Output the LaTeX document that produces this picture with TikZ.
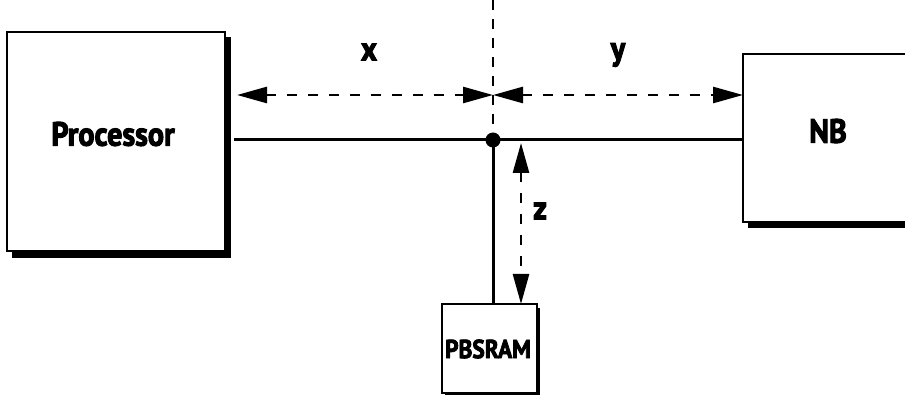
\documentclass[tikz,border=0pt]{standalone}
\usepackage{fontspec}
\setmainfont{PT Sans}[FakeStretch=0.9,BoldFeatures={FakeBold=3}]
\usetikzlibrary{arrows.meta,shadows}
\begin{document}
\begin{tikzpicture}[x=1pt,y=-1pt,
  box/.style={draw=black,line width=2pt,fill=white},
  shad/.style={fill=black},
  lbl/.style={font=\bfseries\fontsize{33.5}{33.5}\selectfont},
  slbl/.style={font=\bfseries\fontsize{26}{26}\selectfont},
  bus/.style={line width=3pt},
  dim/.style={line width=2.6pt,dash pattern=on 10pt off 11pt,
    {Triangle[length=30pt,width=16pt]}-{Triangle[length=30pt,width=16pt]}},
  vdash/.style={line width=2pt,dash pattern=on 10pt off 9pt}]
\useasboundingbox (0,0) rectangle (905,395);
% shadows
\fill[shad] (12,37) rectangle (231,258);
\fill[shad] (748,59) rectangle (915,228);
\fill[shad] (445,308) rectangle (540,400);
% boxes
\draw[box] (7,32) rectangle (225,251);
\draw[box] (743,54) rectangle (912,222);
\draw[box] (442,304) rectangle (537,393);
\node[lbl] (proc) at (113,134) {Processor};
\node[lbl] (nb) at (828,131) {NB};
\node[slbl] (pb) at (488,349) {PBSRAM};
\coordinate (pl) at (234,140);
\coordinate (nbl) at (743,140);
\coordinate (dot) at (493,140);
\coordinate (top) at (493,0);
\coordinate (pbt) at (493,304);
\coordinate (al) at (237,95);
\coordinate (am) at (493,95);
\coordinate (ar) at (743,95);
\coordinate (zt) at (521,143);
\coordinate (zb) at (521,304);
% bus
\draw[bus] (pl) -- (nbl);
\draw[bus] (dot) -- (pbt);
\draw[vdash] (top) -- (dot);
\fill (dot) circle (7.5pt);
% dimension arrows
\draw[dim] (al) -- (am);
\draw[dim] (am) -- (ar);
\draw[dim] (zt) -- (zb);
\node[lbl] (lx) at (369,52) {x};
\node[lbl] (ly) at (618,55) {y};
\node[lbl] (lz) at (540,211) {z};
\end{tikzpicture}
\end{document}
